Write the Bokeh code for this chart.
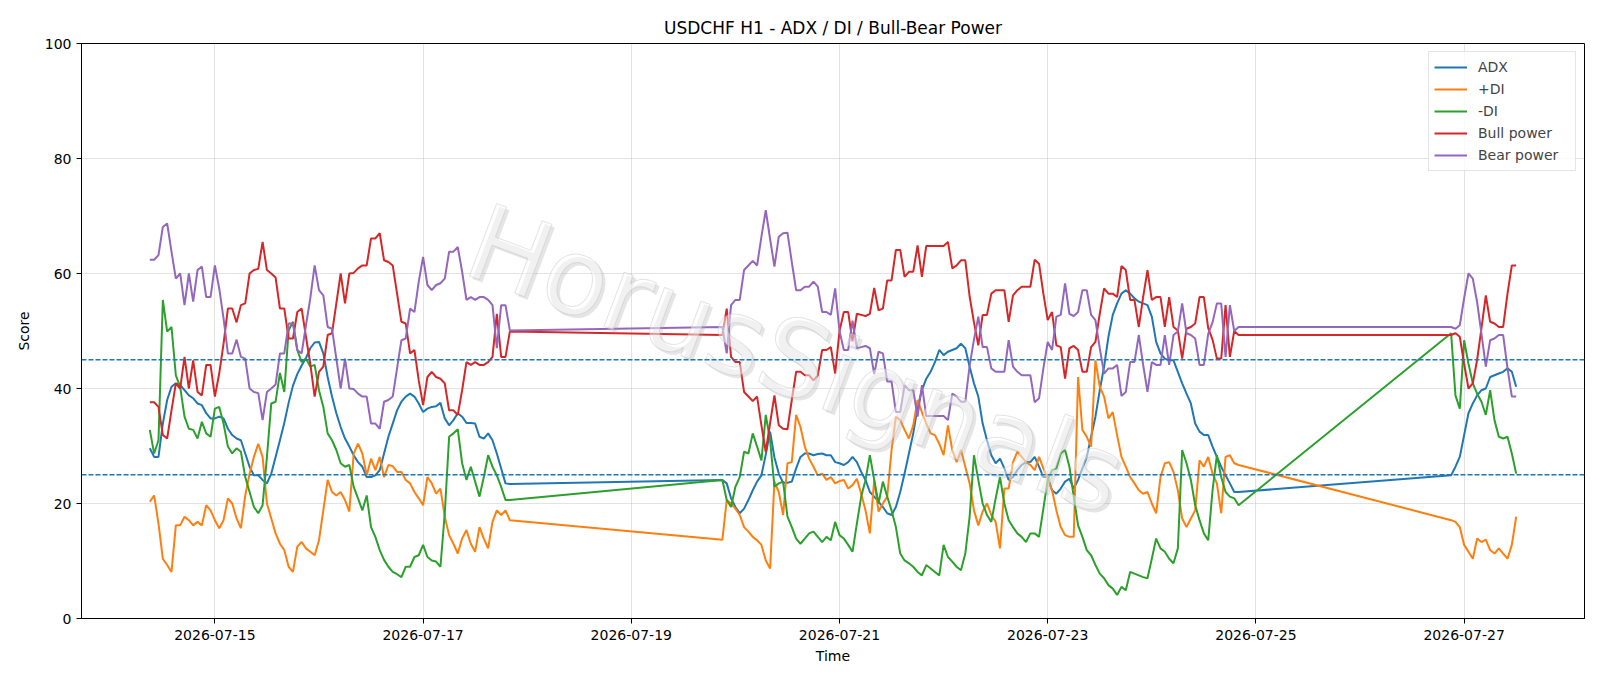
import pandas as pd
from bokeh.plotting import figure
from bokeh.models import Span, Legend, LegendItem, FixedTicker, DatetimeTickFormatter, Range1d
from bokeh.core.properties import value
from bokeh.embed import file_html
from bokeh.resources import INLINE

TITLE = "USDCHF H1 - ADX / DI / Bull-Bear Power"
SERIES_NAMES = ["ADX", "+DI", "-DI", "Bull power", "Bear power"]
COLORS = ["#1f77b4", "#ff7f0e", "#2ca02c", "#d62728", "#9467bd"]
LEVELS = [25, 45]
TICK_DATES = ["2026-07-15", "2026-07-17", "2026-07-19", "2026-07-21",
              "2026-07-23", "2026-07-25", "2026-07-27"]
Y_TICKS = [0, 20, 40, 60, 80, 100]
WATERMARK = "HorusSignals"

# three trading sessions of hourly bars
SEG_STARTS = ["2026-07-14 09:00", "2026-07-19 21:00", "2026-07-26 21:00"]
SEG_LENGTHS = [84, 120, 16]

adx_1 = [29.6, 28.1, 28.1, 33.9, 38.0, 40.3, 40.9, 40.6, 39.7, 38.8, 38.3, 37.4, 37.1, 35.7, 34.8, 34.8, 35.1, 34.8, 33.0, 31.9, 31.3, 31.0, 28.7, 26.4, 24.9, 24.9, 24.1,
         23.5, 25.2, 28.1, 31.0, 34.0, 37.5, 40.5, 42.5, 44.0, 45.3, 47.0, 48.0, 48.1, 46.1, 42.0, 38.6, 35.7, 33.3, 31.3, 29.9, 28.4, 27.2, 26.4, 24.6, 24.6, 24.9, 25.8, 28.7,
         31.6, 33.9, 36.2, 37.7, 38.6, 39.1, 38.6, 37.4, 35.9, 36.5, 36.8, 36.9, 37.5, 34.8, 33.6, 34.5, 35.7, 35.1, 34.0, 34.0, 33.9, 31.6, 31.3, 32.2, 31.0, 28.7, 26.1, 23.5, 23.4]
adx_2 = [24.1, 23.5, 20.9, 19.4, 18.3, 19.1, 20.6, 22.3, 23.8, 24.9, 28.5, 32.5, 28.0, 25.2, 23.6, 23.6, 23.8, 26.1, 28.1, 28.7, 28.7, 28.4, 28.6, 28.7, 28.4, 28.4, 27.2, 27.0,
         26.7, 27.2, 28.1, 27.2, 25.5, 24.1, 22.0, 21.2, 20.3, 19.4, 18.3, 18.0, 19.4, 22.0, 25.2, 28.7, 32.2, 36.8, 39.7, 41.7, 42.9, 44.6, 46.7, 45.8, 46.4, 46.7, 47.0, 47.8,
         47.0, 43.8, 40.9, 38.6, 33.9, 31.0, 28.4, 27.0, 27.8, 26.1, 24.1, 24.6, 25.8, 26.7, 27.2, 27.2, 28.1, 26.4, 24.6, 24.6, 22.3, 21.7, 22.6, 23.8, 24.3, 22.6, 24.1, 26.1,
         28.1, 31.6, 35.1, 39.7, 43.8, 49.0, 52.8, 54.8, 56.5, 57.1, 56.5, 55.7, 55.1, 54.8, 54.5, 52.5, 48.1, 46.1, 45.2, 44.9, 44.9, 42.9, 40.9, 39.1, 37.4, 33.9, 32.5,
         31.9, 31.9, 29.9, 28.1, 26.4, 24.9, 23.5, 22.0, 22.0]
adx_3 = [24.9, 26.4, 28.1, 31.9, 35.7, 37.4, 38.8, 39.7, 40.0, 42.0, 42.3, 42.6, 42.9, 43.5, 42.9, 40.3]

pdi_1 = [20.3, 21.4, 16.5, 10.4, 9.3, 8.1, 16.2, 16.2, 17.7, 17.1, 16.2, 16.8, 16.2, 19.7, 18.8, 17.1, 15.7, 17.1, 20.9, 20.0, 17.4, 15.7, 21.4, 25.2, 28.1, 30.4, 28.1,
         20.0, 17.4, 14.8, 13.0, 11.9, 9.0, 8.1, 12.5, 13.3, 12.2, 11.6, 11.0, 13.6, 18.8, 24.1, 22.0, 21.4, 22.0, 20.6, 18.6, 28.7, 30.4, 28.7, 24.9, 27.8, 25.8, 28.1, 24.6,
         26.7, 26.5, 25.5, 25.5, 24.1, 23.5, 22.0, 20.9, 19.7, 24.6, 23.5, 21.7, 22.6, 17.7, 14.5, 13.0, 11.3, 13.9, 15.4, 13.0, 11.6, 15.9, 13.9, 12.2, 16.8, 18.8, 18.0, 18.8, 17.1]
pdi_2 = [13.7, 20.6, 20.0, 19.1, 18.0, 15.9, 15.1, 14.2, 13.6, 12.8, 10.1, 8.7, 23.8, 22.0, 18.0, 27.0, 27.2, 35.4, 33.3, 29.9, 27.8, 26.4, 24.9, 25.2, 24.1, 24.6, 23.5, 23.9,
         24.1, 22.6, 23.2, 24.3, 21.7, 18.8, 14.8, 24.1, 18.6, 20.0, 21.2, 29.3, 35.1, 34.5, 32.8, 31.3, 33.6, 38.0, 35.9, 33.9, 32.2, 31.9, 30.4, 28.4, 33.6, 29.3, 27.2, 29.3,
         26.4, 23.5, 18.8, 16.2, 18.6, 20.0, 18.0, 16.8, 12.2, 22.6, 22.6, 27.2, 29.0, 28.1, 27.2, 26.7, 25.8, 28.1, 26.1, 24.3, 22.3, 18.8, 15.9, 14.5, 14.2, 14.2, 42.0, 32.8,
         31.6, 29.9, 44.9, 40.3, 38.6, 34.8, 35.9, 31.9, 28.1, 26.4, 24.6, 23.5, 22.3, 21.7, 22.0, 20.0, 18.3, 24.6, 27.0, 27.2, 25.5, 22.3, 17.4, 15.9, 17.4, 18.8, 27.5,
         26.4, 28.1, 25.2, 23.5, 18.3, 28.1, 28.4, 27.0, 26.7]
pdi_3 = [17.1, 16.8, 15.9, 12.8, 11.6, 10.4, 13.9, 13.3, 13.7, 11.9, 11.3, 12.2, 11.3, 10.4, 12.8, 17.7]

mdi_1 = [32.8, 28.7, 31.0, 55.4, 49.9, 50.7, 42.3, 40.3, 35.1, 33.0, 32.8, 31.3, 34.2, 32.2, 31.6, 36.5, 36.8, 33.9, 29.9, 28.7, 29.6, 29.0, 24.6, 22.0, 19.4, 18.3, 19.7,
         28.1, 37.4, 37.7, 42.7, 39.4, 50.1, 51.6, 46.7, 44.6, 45.2, 43.8, 44.1, 39.7, 36.8, 32.2, 31.0, 29.3, 27.0, 26.4, 26.7, 22.9, 20.9, 18.8, 21.4, 15.9, 14.2, 11.9, 10.2,
         9.0, 8.1, 7.7, 7.2, 9.0, 9.0, 10.7, 11.0, 12.8, 10.7, 10.1, 9.9, 9.0, 18.3, 31.6, 32.2, 32.9, 27.0, 24.1, 26.4, 23.8, 21.2, 24.6, 28.4, 26.4, 24.9, 22.9, 20.6, 20.6]
mdi_2 = [24.1, 20.6, 19.4, 22.9, 24.6, 29.0, 28.7, 32.2, 29.9, 27.5, 35.4, 31.0, 22.9, 23.5, 23.8, 17.7, 15.9, 13.9, 13.0, 13.9, 14.8, 15.1, 14.2, 13.3, 14.2, 13.6, 16.8, 14.5,
         13.9, 12.8, 11.6, 16.5, 21.2, 24.1, 28.4, 24.1, 20.0, 23.8, 21.2, 18.8, 15.9, 11.3, 10.1, 9.6, 9.0, 8.1, 7.5, 9.3, 8.7, 8.1, 7.5, 12.8, 10.7, 9.9, 9.0, 8.4,
         11.3, 17.7, 28.4, 24.1, 20.0, 18.0, 16.8, 20.9, 24.6, 20.0, 17.1, 15.9, 14.8, 14.2, 13.3, 14.8, 14.8, 14.2, 19.1, 24.1, 25.8, 26.1, 28.7, 29.3, 26.4, 21.2, 16.2, 14.2,
         11.9, 11.0, 9.3, 7.8, 7.0, 5.8, 5.2, 4.1, 5.5, 4.9, 8.1, 7.8, 7.5, 7.2, 7.0, 10.4, 13.9, 12.2, 11.6, 10.4, 9.6, 12.2, 29.3, 27.0, 24.1, 19.7, 17.1,
         14.8, 13.6, 22.3, 28.4, 24.6, 22.0, 21.2, 20.9, 19.7]
mdi_3 = [49.6, 38.8, 36.5, 48.4, 44.3, 40.9, 39.1, 37.7, 35.4, 39.7, 34.5, 31.6, 31.3, 31.6, 28.7, 25.2]

bull_1 = [37.6, 37.6, 36.8, 31.9, 31.3, 36.2, 40.9, 40.0, 45.5, 40.0, 44.9, 39.4, 38.8, 44.1, 44.1, 38.6, 42.6, 47.8, 53.9, 53.9, 51.5, 54.5, 54.8, 60.0, 60.6, 60.8, 65.5,
          60.6, 60.0, 59.3, 53.9, 53.9, 48.7, 48.7, 53.3, 53.9, 49.0, 44.3, 38.6, 42.9, 43.8, 49.3, 49.6, 54.8, 60.0, 54.8, 60.0, 60.1, 60.9, 61.4, 61.4, 66.1, 66.1, 67.0, 62.3,
          62.0, 61.4, 56.5, 51.6, 51.3, 46.1, 46.7, 41.4, 37.1, 42.0, 42.9, 42.0, 41.7, 40.9, 36.2, 36.2, 35.4, 39.7, 44.6, 44.1, 44.6, 44.1, 44.1, 44.6, 45.5, 53.0, 45.5, 45.5, 49.9]
bull_2 = [49.3, 53.9, 45.5, 44.6, 44.6, 39.4, 38.6, 37.8, 38.6, 33.6, 29.0, 34.0, 38.8, 33.6, 33.0, 32.9, 38.0, 42.9, 42.9, 42.3, 42.3, 41.4, 42.3, 46.7, 46.7, 47.2, 42.6, 50.0,
          53.3, 53.3, 48.2, 53.0, 52.8, 52.6, 53.0, 57.5, 53.6, 53.9, 58.8, 58.8, 64.1, 64.1, 59.4, 60.3, 60.3, 64.9, 59.4, 64.8, 64.8, 64.8, 64.8, 64.8, 65.5, 60.9, 61.4, 62.3,
          62.3, 56.0, 51.5, 47.5, 52.8, 52.8, 56.5, 57.1, 57.1, 57.1, 51.6, 56.2, 57.1, 57.7, 57.7, 57.7, 62.4, 61.7, 56.5, 51.9, 53.3, 47.5, 47.2, 41.7, 47.0, 47.4, 46.7, 42.9,
          42.9, 47.2, 48.1, 53.0, 57.4, 56.5, 56.5, 55.9, 61.3, 60.6, 55.4, 55.4, 50.7, 55.9, 60.6, 55.4, 55.9, 55.9, 50.7, 55.9, 50.7, 50.1, 45.2, 50.4, 50.7, 51.3, 55.9,
          55.9, 50.5, 48.5, 45.2, 45.2, 54.5, 45.5, 50.0, 49.3]
bull_3 = [49.3, 49.6, 49.0, 44.3, 40.0, 40.9, 45.0, 50.5, 56.2, 51.6, 51.3, 50.7, 50.7, 56.5, 61.4, 61.4]

bear_1 = [62.4, 62.4, 63.2, 68.1, 68.7, 63.8, 59.1, 60.0, 54.5, 60.0, 55.1, 60.6, 61.2, 55.9, 55.9, 61.4, 57.4, 52.2, 46.1, 46.1, 48.5, 45.5, 45.2, 40.0, 39.4, 39.2, 34.5,
          39.4, 40.0, 40.7, 46.1, 46.1, 51.3, 51.3, 46.7, 46.1, 51.0, 55.7, 61.4, 57.1, 56.2, 50.7, 50.4, 45.2, 40.0, 45.2, 40.0, 39.9, 39.1, 38.6, 38.6, 33.9, 33.9, 33.0, 37.7,
          38.0, 38.6, 43.5, 48.4, 48.7, 53.9, 53.3, 58.6, 62.9, 58.0, 57.1, 58.0, 58.3, 59.1, 63.8, 63.8, 64.6, 60.3, 55.4, 55.9, 55.4, 55.9, 55.9, 55.4, 54.5, 47.0, 54.5, 54.5, 50.1]
bear_2 = [50.7, 46.1, 54.5, 55.4, 55.4, 60.6, 61.4, 62.2, 61.4, 66.4, 71.0, 66.0, 61.2, 66.4, 67.0, 67.1, 62.0, 57.1, 57.1, 57.7, 57.7, 58.6, 57.7, 53.3, 53.3, 52.8, 57.4, 50.0,
          46.7, 46.7, 51.8, 47.0, 47.2, 47.4, 47.0, 42.5, 46.4, 46.1, 41.2, 41.2, 35.9, 35.9, 40.6, 39.7, 39.7, 35.1, 40.6, 35.2, 35.2, 35.2, 35.2, 35.2, 34.5, 39.1, 38.6, 37.7,
          37.7, 44.0, 48.5, 52.5, 47.2, 47.2, 43.5, 42.9, 42.9, 42.9, 48.4, 43.8, 42.9, 42.3, 42.3, 42.3, 37.6, 38.3, 43.5, 48.1, 46.7, 52.5, 52.8, 58.3, 53.0, 52.6, 53.3, 57.1,
          57.1, 52.8, 51.9, 47.0, 42.6, 43.5, 43.5, 44.1, 38.7, 39.4, 44.6, 44.6, 49.3, 44.1, 39.4, 44.6, 44.1, 44.1, 49.3, 44.1, 49.3, 49.9, 54.8, 49.6, 49.3, 48.7, 44.1,
          44.1, 49.5, 51.5, 54.8, 54.8, 45.5, 54.5, 50.0, 50.7]
bear_3 = [50.7, 50.4, 51.0, 55.7, 60.0, 59.1, 55.0, 49.5, 43.8, 48.4, 48.7, 49.3, 49.3, 43.5, 38.6, 38.6]

times = []
for start, n in zip(SEG_STARTS, SEG_LENGTHS):
    times += list(pd.date_range(start, periods=n, freq="h"))

series = [adx_1 + adx_2 + adx_3,
          pdi_1 + pdi_2 + pdi_3,
          mdi_1 + mdi_2 + mdi_3,
          bull_1 + bull_2 + bull_3,
          bear_1 + bear_2 + bear_3]

pad = pd.Timedelta(hours=15.75)
x0 = times[0] - pad
x1 = times[-1] + pad

FONT = "DejaVu Sans"
p = figure(width=1600, height=686, x_axis_type="datetime",
           x_range=Range1d(x0, x1), y_range=Range1d(0, 100),
           output_backend="svg", toolbar_location=None, title=TITLE,
           min_border_left=81, min_border_right=16, min_border_top=43, min_border_bottom=68)
p.background_fill_color = "white"
p.border_fill_color = "white"
p.outline_line_color = "black"
p.outline_line_width = 1

p.title.align = "center"
p.title.text_font = FONT
p.title.text_font_size = "17px"
p.title.text_font_style = "normal"
p.title.text_color = "black"
p.title.standoff = 12

for ax in (p.xaxis[0], p.yaxis[0]):
    ax.axis_line_color = "black"
    ax.major_tick_line_color = "black"
    ax.major_tick_out = 5
    ax.major_tick_in = 0
    ax.minor_tick_line_color = None
    ax.major_label_text_font = FONT
    ax.major_label_text_font_size = "14px"
    ax.major_label_text_color = "black"
    ax.axis_label_text_font = FONT
    ax.axis_label_text_font_size = "14px"
    ax.axis_label_text_font_style = "normal"
    ax.axis_label_text_color = "black"

p.xaxis.axis_label = "Time"
p.yaxis.axis_label = "Score"
p.xaxis.axis_label_standoff = 5
p.yaxis.axis_label_standoff = 10
p.xaxis.major_label_standoff = 6
p.yaxis.major_label_standoff = 5

tick_ms = [pd.Timestamp(d).value // 10**6 for d in TICK_DATES]
p.xaxis.ticker = FixedTicker(ticks=tick_ms)
fmt = "%Y-%m-%d"
p.xaxis.formatter = DatetimeTickFormatter(days=fmt, months=fmt, hours=fmt, years=fmt)
p.yaxis.ticker = FixedTicker(ticks=Y_TICKS)
p.xgrid.ticker = FixedTicker(ticks=tick_ms)
p.ygrid.ticker = FixedTicker(ticks=Y_TICKS)
for g in (p.xgrid[0], p.ygrid[0]):
    g.grid_line_color = "#b0b0b0"
    g.grid_line_alpha = 0.35
    g.grid_line_width = 1

items = []
for name, color, vals in zip(SERIES_NAMES, COLORS, series):
    r = p.line(times, vals, line_color=color, line_width=2)
    items.append(LegendItem(label=name, renderers=[r]))

for lv in LEVELS:
    p.add_layout(Span(location=lv, dimension="width", line_color="#1f77b4",
                      line_dash="5 2", line_width=1.3))

# watermark: light grey drop shadow + faint outlined text
wm_x = [pd.Timestamp("2026-07-20 14:00")]
wm_y = [45.0]
p.text(x=wm_x, y=wm_y, text=[WATERMARK], angle=-0.36, x_offset=3, y_offset=3,
       text_font=value(FONT), text_font_size=value("106px"),
       text_align="center", text_baseline="middle",
       text_color="#a8a8a8", text_alpha=0.3)
p.text(x=wm_x, y=wm_y, text=[WATERMARK], angle=-0.36,
       text_font=value(FONT), text_font_size=value("106px"),
       text_align="center", text_baseline="middle",
       text_color="white", text_alpha=0.45,
       text_outline_color="#c4c4c4")

legend = Legend(items=items, location="top_right")
legend.margin = 8
legend.padding = 5
legend.spacing = 2
legend.glyph_width = 33
legend.glyph_height = 20
legend.label_height = 20
legend.label_width = 92
legend.label_standoff = 11
legend.label_text_font = FONT
legend.label_text_font_size = "14px"
legend.border_line_color = "#cccccc"
legend.border_line_width = 1
legend.background_fill_color = "white"
legend.background_fill_alpha = 0.8
p.add_layout(legend)

open("out.html", "w").write(file_html(p, INLINE))
